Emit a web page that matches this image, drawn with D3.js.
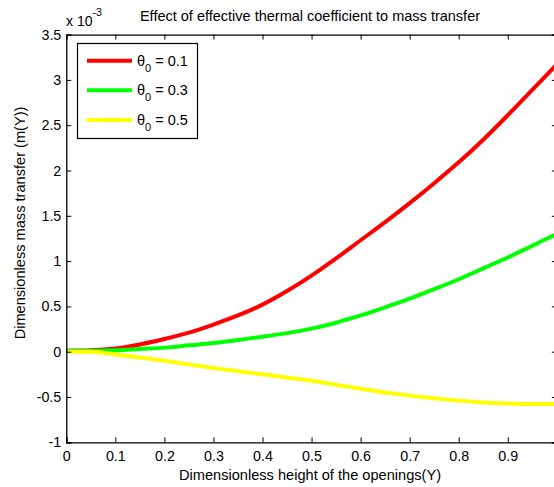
<!DOCTYPE html>
<html>
<head>
<meta charset="utf-8">
<script src="https://cdn.jsdelivr.net/npm/d3@7"></script>
<style>
  body { margin: 0; background: #fff; }
  svg { display: block; font-family: "Liberation Sans", Arial, sans-serif; }
</style>
</head>
<body>
<svg id="chart" width="554" height="487"></svg>
<script>
const xs = [0,0.05,0.1,0.15,0.2,0.25,0.3,0.35,0.4,0.45,0.5,0.55,0.6,0.65,0.7,0.75,0.8,0.85,0.9,0.95,1.0];
const red    = [0.01,0.015,0.035,0.08,0.14,0.21,0.30,0.40,0.52,0.67,0.84,1.03,1.23,1.43,1.64,1.86,2.09,2.34,2.61,2.89,3.17];
const green  = [0.01,0.01,0.015,0.03,0.045,0.07,0.095,0.13,0.165,0.205,0.255,0.32,0.40,0.49,0.585,0.69,0.80,0.92,1.04,1.17,1.30];
const yellow = [0.0,0.0,-0.03,-0.065,-0.10,-0.14,-0.18,-0.215,-0.25,-0.285,-0.32,-0.365,-0.41,-0.45,-0.485,-0.515,-0.54,-0.56,-0.572,-0.578,-0.578];
const seriesNames = ["0.1","0.3","0.5"];
const seriesColors = ["#ff0000","#00ff00","#ffff00"];
const xTicks = [0,0.1,0.2,0.3,0.4,0.5,0.6,0.7,0.8,0.9,1];
const yTicks = [-1,-0.5,0,0.5,1,1.5,2,2.5,3,3.5];

const svg = d3.select("#chart");
const L = 66.3, R = 556.8, T = 34.6, B = 442.3;
const x = d3.scaleLinear().domain([0,1]).range([L,R]);
const y = d3.scaleLinear().domain([-1,3.5]).range([B,T]);

const allSeries = [red, green, yellow];
const line = d3.line().x((d,i)=>x(xs[i])).y(d=>y(d)).curve(d3.curveMonotoneX);
allSeries.forEach((s,k)=>{
  svg.append("path").attr("d", line(s)).attr("fill","none")
    .attr("stroke", seriesColors[k]).attr("stroke-width",4).attr("stroke-linejoin","round");
});

// axes
const fmt = d => String(d);
const tl = 5;
const xb = svg.append("g").attr("transform",`translate(0,${B})`)
  .call(d3.axisBottom(x).tickValues(xTicks).tickSize(-tl).tickPadding(9).tickFormat(fmt));
const xt = svg.append("g").attr("transform",`translate(0,${T})`)
  .call(d3.axisTop(x).tickValues(xTicks).tickSize(-tl).tickFormat(""));
const yl = svg.append("g").attr("transform",`translate(${L},0)`)
  .call(d3.axisLeft(y).tickValues(yTicks).tickSize(-tl).tickPadding(5).tickFormat(fmt));
const yr = svg.append("g").attr("transform",`translate(${R},0)`)
  .call(d3.axisRight(y).tickValues(yTicks).tickSize(-tl).tickFormat(""));
[xb,xt,yl,yr].forEach(g=>{
  g.select(".domain").attr("stroke","#000").attr("stroke-width",1.3);
  g.selectAll(".tick line").attr("stroke","#000");
  g.selectAll(".tick text").attr("fill","#000").style("font-size","14.3px").style("font-family","'Liberation Sans', Arial, sans-serif");
});
// hide clipped "1" label
xb.selectAll(".tick text").filter(d=>d===1).remove();

// exponent label
const ex = svg.append("text").attr("x",66).attr("y",26).style("font-size","14px");
ex.append("tspan").text("x 10");
ex.append("tspan").attr("dy",-10).style("font-size","10.5px").text("-3");

// title
svg.append("text").attr("x",310).attr("y",21).attr("text-anchor","middle")
  .style("font-size","14.5px").text("Effect of effective thermal coefficient to mass transfer");
// axis labels
svg.append("text").attr("x",310).attr("y",480).attr("text-anchor","middle")
  .style("font-size","14.6px").text("Dimensionless height of the openings(Y)");
svg.append("text").attr("transform",`translate(25,223) rotate(-90)`).attr("text-anchor","middle")
  .style("font-size","14.6px").text("Dimensionless mass transfer (m(Y))");

// legend
const lg = svg.append("g");
lg.append("rect").attr("x",77.5).attr("y",43.5).attr("width",120).attr("height",95)
  .attr("fill","#fff").attr("stroke","#000").attr("stroke-width",1.2);
const ly = [60.7, 90.3, 120];
seriesNames.forEach((n,k)=>{
  lg.append("line").attr("x1",87).attr("x2",132).attr("y1",ly[k]).attr("y2",ly[k])
    .attr("stroke",seriesColors[k]).attr("stroke-width",4);
  const t = lg.append("text").attr("x",137).attr("y",ly[k]+5).style("font-size","14.5px");
  t.append("tspan").text("θ");
  t.append("tspan").attr("dy",6).style("font-size","11px").text("0");
  t.append("tspan").attr("dy",-6).text(" = " + n);
});
</script>
</body>
</html>
